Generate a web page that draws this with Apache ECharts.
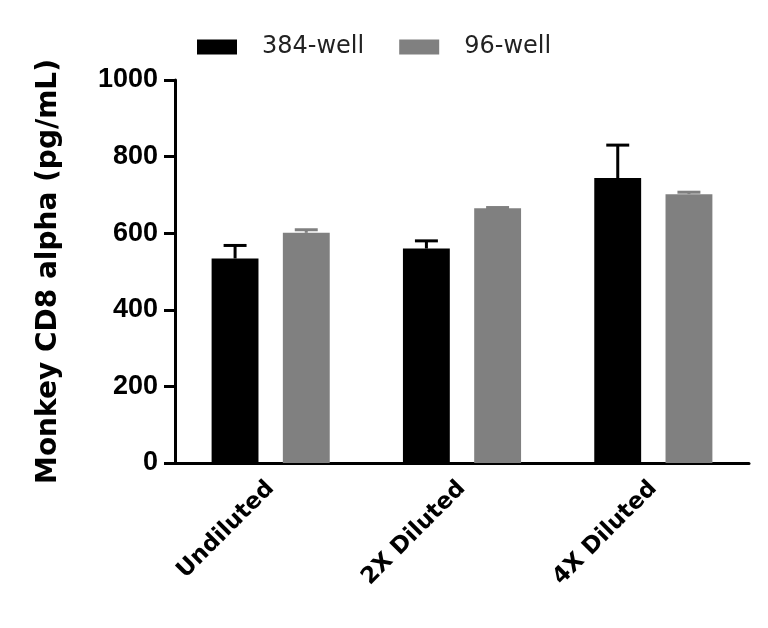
<!DOCTYPE html>
<html>
<head>
<meta charset="utf-8">
<script src="https://cdn.jsdelivr.net/npm/echarts@6/dist/echarts.min.js"></script>
<style>
  html, body { margin: 0; padding: 0; background: #fff; }
  #myChart { width: 768px; height: 628px; }
</style>
</head>
<body>
<div id="myChart"></div>
<script>
// categories and values
var categories = ['Undiluted', '2X Diluted', '4X Diluted'];
var well384 = [534, 560, 744];
var well384Err = [34, 20, 86];
var well96 = [601, 665, 702];
var well96Err = [8, 2, 5];
var yTicks = [0, 200, 400, 600, 800, 1000];

var FONT = '"DejaVu Sans", sans-serif';
var NUMFONT = '"Liberation Sans", Arial, sans-serif';

/* error bar: whisker up from bar top, plus a cap */
function errorBar(side, color) {
    return function (params, api) {
        var i = api.value(0);
        var top = api.coord([i, api.value(1) + api.value(2)]);
        var base = api.coord([i, api.value(1)]);
        var band = api.size([1, 0])[0];
        var x = base[0] + side * band * 0.186;
        var capHalf = band * 0.06;
        var style = { stroke: color, lineWidth: 3 };
        return {
            type: 'group',
            children: [
                { type: 'line', shape: { x1: x, y1: base[1], x2: x, y2: top[1] }, style: style },
                { type: 'line', shape: { x1: x - capHalf, y1: top[1], x2: x + capHalf, y2: top[1] }, style: style }
            ]
        };
    };
}

var myChart = echarts.init(document.getElementById('myChart'));
var option = {
    animation: false,
    textStyle: { fontFamily: FONT },
    legend: {
        top: 30,
        left: 192,
        itemWidth: 40,
        itemHeight: 15,
        itemGap: 35,
        icon: 'rect',
        textStyle: { fontSize: 24, color: '#222', fontFamily: FONT, padding: [0, 0, 0, 20] },
        data: ['384-well', '96-well']
    },
    grid: { left: 175, right: 19, top: 80, bottom: 165, containLabel: false },
    xAxis: {
        type: 'category',
        data: categories,
        axisLine: { lineStyle: { color: '#000', width: 3 } },
        axisTick: { alignWithLabel: true, length: 10, lineStyle: { color: '#000', width: 3 } },
        axisLabel: { rotate: 45, margin: 22, fontSize: 23, fontWeight: 'bold', color: '#000', fontFamily: FONT }
    },
    yAxis: {
        type: 'value',
        min: yTicks[0],
        max: yTicks[yTicks.length - 1],
        interval: 200,
        name: 'Monkey CD8 alpha (pg/mL)',
        nameLocation: 'middle',
        nameGap: 112,
        nameTextStyle: { fontSize: 28, fontWeight: 'bold', color: '#000', fontFamily: FONT },
        splitLine: { show: false },
        axisLine: { show: true, lineStyle: { color: '#000', width: 3 } },
        axisTick: { show: true, length: 11, lineStyle: { color: '#000', width: 3 } },
        axisLabel: {
            fontSize: 27, fontWeight: 'bold', color: '#000', margin: 17, fontFamily: NUMFONT,
            formatter: function (v) { return String(v); }
        }
    },
    series: [
        {
            name: '384-well',
            type: 'bar',
            data: well384,
            barWidth: '24.5%',
            barGap: '52%',
            itemStyle: { color: '#000' }
        },
        {
            name: '96-well',
            type: 'bar',
            data: well96,
            barWidth: '24.5%',
            itemStyle: { color: '#808080' }
        },
        {
            type: 'custom',
            renderItem: errorBar(-1, '#000'),
            data: well384.map(function (v, i) { return [i, v, well384Err[i]]; }),
            z: 1
        },
        {
            type: 'custom',
            renderItem: errorBar(1, '#808080'),
            data: well96.map(function (v, i) { return [i, v, well96Err[i]]; }),
            z: 1
        }
    ]
};
myChart.setOption(option);
</script>
</body>
</html>
